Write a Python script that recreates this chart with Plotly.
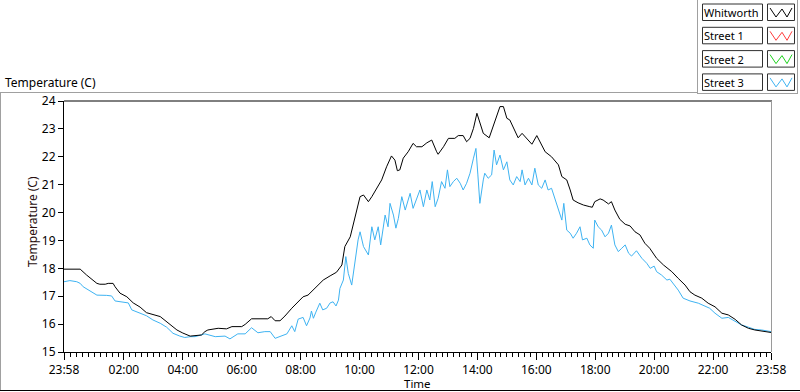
import plotly.graph_objects as go
from datetime import datetime, timedelta

# ---------------- data ----------------
start = datetime(2014, 1, 1, 23, 58)

whit_min = [0, 33, 46, 67, 73, 84, 90, 100, 104, 114, 128, 141, 155, 168, 196, 209, 230, 242, 257,
            280, 287, 293, 314, 331, 342, 362, 369, 382, 415, 422, 430, 440, 450, 464, 477, 487, 497,
            511, 528, 542, 555, 566, 572, 583, 589, 596, 603, 610, 620, 627, 637, 647, 657, 667, 674,
            679, 684, 691, 701, 711, 718, 729, 739, 749, 759, 762, 773, 783, 796, 803, 813, 820, 827,
            834, 841, 847, 854, 866, 874, 881, 888, 895, 902, 908, 919, 925, 933, 942, 953, 963, 973,
            980, 993, 1007, 1014, 1024, 1031, 1037, 1047, 1058, 1071, 1076, 1081, 1092, 1098, 1109,
            1115, 1122, 1132, 1143, 1153, 1163, 1173, 1183, 1193, 1207, 1221, 1238, 1251, 1265, 1275,
            1285, 1299, 1312, 1326, 1340, 1353, 1367, 1380, 1394, 1407, 1421, 1434, 1440]
whit_temp = [17.97, 17.97, 17.76, 17.46, 17.43, 17.43, 17.46, 17.46, 17.34, 17.11, 16.98, 16.76, 16.61,
             16.41, 16.27, 16.09, 15.79, 15.68, 15.57, 15.61, 15.73, 15.79, 15.85, 15.83, 15.91, 15.91,
             15.99, 16.19, 16.19, 16.27, 16.12, 16.12, 16.29, 16.57, 16.80, 16.98, 17.04, 17.28, 17.58,
             17.73, 17.86, 18.12, 18.78, 19.13, 19.55, 20.09, 20.57, 20.63, 20.39, 20.57, 20.87, 21.17,
             21.64, 22.03, 21.88, 21.50, 21.53, 21.95, 22.18, 22.48, 22.36, 22.36, 22.50, 22.60, 22.18,
             22.09, 22.36, 22.66, 22.66, 22.76, 22.76, 22.54, 22.66, 23.02, 23.56, 23.20, 22.84, 22.68,
             23.08, 23.50, 23.80, 23.80, 23.38, 23.32, 22.90, 22.68, 22.84, 22.66, 22.45, 22.76, 22.42,
             22.18, 22.00, 21.71, 21.29, 21.17, 20.81, 20.45, 20.35, 20.27, 20.21, 20.19, 20.39, 20.49,
             20.45, 20.31, 20.39, 20.09, 19.76, 19.58, 19.52, 19.31, 19.20, 18.90, 18.72, 18.36, 18.12,
             17.88, 17.64, 17.40, 17.16, 17.04, 16.93, 16.75, 16.62, 16.39, 16.33, 16.17, 15.97, 15.85,
             15.79, 15.75, 15.73, 15.70]

st3_min = [0, 12, 26, 33, 39, 53, 67, 87, 97, 104, 121, 131, 138, 155, 168, 181, 196, 209, 222, 236,
           246, 257, 267, 287, 308, 328, 338, 354, 369, 382, 395, 409, 420, 430, 443, 454, 464, 470,
           477, 487, 494, 501, 504, 508, 513, 521, 527, 535, 542, 548, 554, 559, 562, 569, 574, 579,
           586, 593, 599, 603, 610, 620, 627, 633, 640, 645, 654, 660, 664, 671, 676, 681, 688, 695,
           705, 711, 718, 725, 732, 739, 745, 750, 756, 762, 769, 776, 781, 786, 793, 800, 807, 813,
           820, 827, 834, 839, 843, 847, 854, 857, 864, 871, 876, 881, 888, 895, 902, 908, 915, 922,
           929, 933, 939, 946, 953, 959, 966, 973, 980, 986, 993, 1000, 1007, 1014, 1018, 1024, 1031,
           1037, 1044, 1051, 1056, 1065, 1071, 1078, 1081, 1088, 1095, 1102, 1109, 1115, 1122, 1129,
           1136, 1143, 1150, 1156, 1166, 1177, 1187, 1194, 1202, 1207, 1217, 1228, 1234, 1241, 1251,
           1261, 1275, 1292, 1305, 1315, 1326, 1340, 1353, 1367, 1380, 1394, 1407, 1421, 1434, 1440]
st3_temp = [17.52, 17.56, 17.52, 17.46, 17.34, 17.19, 17.04, 17.03, 17.01, 16.83, 16.80, 16.76, 16.51,
            16.39, 16.30, 16.15, 16.03, 15.89, 15.67, 15.57, 15.52, 15.55, 15.55, 15.65, 15.55, 15.57,
            15.47, 15.65, 15.65, 15.87, 15.69, 15.73, 15.73, 15.49, 15.57, 15.65, 15.94, 15.73, 16.18,
            16.24, 15.94, 16.22, 16.47, 16.21, 16.43, 16.75, 16.51, 16.57, 16.76, 16.80, 16.65, 16.86,
            17.28, 17.58, 18.42, 17.82, 17.40, 18.30, 19.02, 19.31, 18.78, 18.48, 19.49, 19.02, 19.49,
            18.84, 19.91, 19.49, 20.33, 19.91, 19.44, 19.79, 20.57, 20.09, 20.69, 20.15, 20.45, 20.81,
            20.21, 20.81, 20.45, 21.11, 20.21, 20.51, 21.11, 20.87, 21.53, 20.93, 21.11, 21.23, 21.05,
            20.81, 21.05, 21.41, 21.95, 22.30, 21.35, 20.33, 21.17, 21.41, 21.23, 21.35, 22.24, 21.71,
            22.06, 21.53, 21.82, 21.17, 20.99, 21.29, 21.11, 21.53, 20.99, 21.23, 20.99, 21.59, 20.99,
            20.87, 21.17, 20.81, 20.87, 20.51, 20.15, 19.73, 20.33, 19.37, 19.26, 19.08, 19.26, 19.49,
            19.02, 19.08, 18.84, 18.72, 19.73, 19.49, 19.37, 19.13, 19.26, 19.55, 18.84, 18.60, 18.72,
            18.84, 18.54, 18.44, 18.63, 18.36, 18.18, 18.00, 18.08, 17.88, 17.76, 17.58, 17.61, 17.46,
            17.22, 16.93, 16.83, 16.75, 16.65, 16.57, 16.39, 16.21, 16.24, 16.09, 15.97, 15.89, 15.81,
            15.79, 15.75, 15.73]

tick_minutes = [0, 122, 242, 362, 482, 602, 722, 842, 962, 1082, 1202, 1322, 1440]
tick_labels = ["23:58", "02:00", "04:00", "06:00", "08:00", "10:00", "12:00", "14:00",
               "16:00", "18:00", "20:00", "22:00", "23:58"]
minor_step_min = 12
y_ticks = [15, 16, 17, 18, 19, 20, 21, 22, 23, 24]

legend_names = ["Whitworth", "Street 1", "Street 2", "Street 3"]
legend_colors = ["#000000", "#ff3b3b", "#1ed21e", "#3eb3f2"]

# ---------------- layout helpers ----------------
W, H = 800, 392
L, R, T, B = 64, 771, 101, 352
FONT = "Noto Sans"


def px(x):
    return (x - L) / (R - L)


def py(y):
    return (B - y) / (B - T)


def tm(m):
    return start + timedelta(minutes=m)


# explicit 12-minute minor tick positions, from midnight
minor_vals = []
mt = datetime(2014, 1, 2, 0, 0)
while mt <= tm(1440):
    minor_vals.append(mt)
    mt += timedelta(minutes=minor_step_min)

fig = go.Figure()
fig.add_trace(go.Scatter(x=[tm(m) for m in st3_min], y=st3_temp, mode="lines", xaxis="x",
                         line=dict(color=legend_colors[3], width=1), hoverinfo="skip"))
fig.add_trace(go.Scatter(x=[tm(m) for m in whit_min], y=whit_temp, mode="lines", xaxis="x2",
                         line=dict(color=legend_colors[0], width=1), hoverinfo="skip"))

shapes = []


def hline(x0, x1, y, color):
    shapes.append(dict(type="line", xref="paper", yref="paper", x0=px(x0), x1=px(x1),
                       y0=py(y), y1=py(y), line=dict(color=color, width=1)))


def vline(x, y0, y1, color):
    shapes.append(dict(type="line", xref="paper", yref="paper", x0=px(x), x1=px(x),
                       y0=py(y0), y1=py(y1), line=dict(color=color, width=1)))


# outer frame
hline(0, 697, 92.5, "#a0a0a0")
vline(0.5, 92, 391, "#a0a0a0")
hline(0, 800, 390.5, "#000000")
# legend panel
vline(697.5, 0, 93, "#a0a0a0")
hline(697, 798, 93.5, "#a0a0a0")
vline(797.5, 0, 93, "#a0a0a0")
# plot area frame
hline(L, R + 1, T, "#000000")
vline(R + 0.5, T, B, "#9a9a9a")

annotations = []
for i, (name, col) in enumerate(zip(legend_names, legend_colors)):
    top = 4 + i * 23.3
    bot = top + 16.5
    shapes.append(dict(type="rect", xref="paper", yref="paper", x0=px(702.5), x1=px(762.5),
                       y0=py(bot), y1=py(top), line=dict(color="#303030", width=1),
                       fillcolor="white"))
    shapes.append(dict(type="rect", xref="paper", yref="paper", x0=px(767.5), x1=px(794.5),
                       y0=py(bot), y1=py(top), line=dict(color="#303030", width=1),
                       fillcolor="white"))
    zx = [770, 776, 782, 787, 792]
    zy = [top + 4, top + 13, top + 5, top + 13, top + 4]
    path = "M " + " L ".join(f"{px(a)},{py(b)}" for a, b in zip(zx, zy))
    shapes.append(dict(type="path", xref="paper", yref="paper", path=path,
                       line=dict(color=col, width=1)))
    annotations.append(dict(text=name, xref="paper", yref="paper", x=px(702), y=py(top + 8.5),
                            xanchor="left", yanchor="middle", showarrow=False,
                            font=dict(family=FONT, size=11, color="black")))

annotations.append(dict(text="Temperature (C)", xref="paper", yref="paper", x=px(3), y=py(82),
                        xanchor="left", yanchor="middle", showarrow=False,
                        font=dict(family=FONT, size=12, color="black")))
annotations.append(dict(text="Temperature (C)", xref="paper", yref="paper", x=px(32), y=py(222),
                        xanchor="center", yanchor="middle", showarrow=False, textangle=-90,
                        font=dict(family=FONT, size=12, color="#2a1010")))
annotations.append(dict(text="Time", xref="paper", yref="paper", x=px(417), y=py(383),
                        xanchor="center", yanchor="middle", showarrow=False, borderpad=0,
                        font=dict(family=FONT, size=11.5, color="black")))

fig.update_layout(
    width=W, height=H, autosize=False,
    margin=dict(l=L, r=W - R, t=T, b=H - B, pad=0),
    paper_bgcolor="white", plot_bgcolor="white",
    showlegend=False, hovermode=False, dragmode=False,
    font=dict(family=FONT, size=12, color="black"),
    shapes=shapes, annotations=annotations,
    xaxis=dict(type="date", range=[tm(0), tm(1440)], tickmode="array",
               tickvals=minor_vals, ticktext=[""] * len(minor_vals),
               ticks="outside", ticklen=4, tickcolor="#000000", tickwidth=1,
               showticklabels=False, ticklabelmode="instant",
               showline=True, linecolor="black", linewidth=1, showgrid=False, zeroline=False),
    xaxis2=dict(type="date", range=[tm(0), tm(1440)], overlaying="x", anchor="y", side="bottom",
                tickmode="array", tickvals=[tm(m) for m in tick_minutes], ticktext=tick_labels,
                ticks="outside", ticklen=7, tickcolor="black", tickwidth=1,
                showline=False, showgrid=False, zeroline=False,
                tickfont=dict(family=FONT, size=12, color="black")),
    yaxis=dict(range=[15, 24], tickmode="array", tickvals=y_ticks,
               ticktext=[str(v) for v in y_ticks],
               ticks="outside", ticklen=5, tickcolor="black", tickwidth=1,
               showline=True, linecolor="black", linewidth=1, showgrid=False, zeroline=False,
               tickfont=dict(family=FONT, size=12, color="black")),
)

fig.write_html("out.html", config={"staticPlot": True},
               post_script="document.body.style.margin='0';")
